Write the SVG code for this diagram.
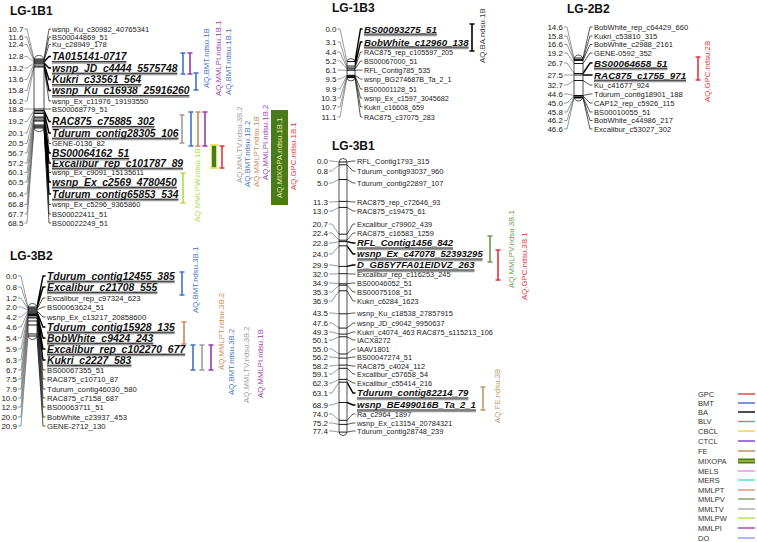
<svg xmlns="http://www.w3.org/2000/svg" width="757" height="542" viewBox="0 0 757 542">
<style>
text{font-family:"Liberation Sans",Arial,sans-serif}
.t{font-size:12px;font-weight:bold;fill:#111}
.n{font-size:8px;fill:#222;text-anchor:end}
.s{fill:#222}
.b{font-weight:bold;font-style:italic;fill:#111}
.q{font-size:7.8px}
.lg{font-size:7.5px;fill:#333}
.chr{fill:#fff;stroke:#222;stroke-width:0.8}
.ml{stroke:#000;stroke-width:0.9;fill:none}
.lc{stroke:#555;stroke-width:0.6;fill:none}
.rc{stroke:#111;stroke-width:0.7;fill:none}
.rb{stroke:#000;stroke-width:1.4;fill:none}
.u1{stroke:#111;stroke-width:1}
.u2{stroke:#999;stroke-width:1.5}
.qb{fill:none;stroke-width:1.6}
.cGPC{stroke:#e4353a}.fGPC{fill:#e4353a}
.cBMT{stroke:#3f73c8}.fBMT{fill:#3f73c8}
.cMMLPI{stroke:#9b3aad}.fMMLPI{fill:#9b3aad}
.cMMLTV{stroke:#9c9c9c}.fMMLTV{fill:#9c9c9c}
.cMMLPT{stroke:#c98a52}.fMMLPT{fill:#c98a52}
.cMMLPW{stroke:#a6e04a}.fMMLPW{fill:#a6e04a}
.cMMLPV{stroke:#6b9b4b}.fMMLPV{fill:#6b9b4b}
.cFE{stroke:#c09868}.fFE{fill:#c09868}
.cBA{stroke:#000}.fBA{fill:#333}
</style>

<g id="connectors">
<path class="lc" d="M24.5 29H27L34 59M24.5 37H27L34 60M24.5 44.5H27L34 61M24.5 56.5H27L34 62M24.5 68H27L34 63M24.5 79.5H27L34 64M24.5 90.5H27L34 66M24.5 101H27L34 67M24.5 109H27L34 109M24.5 121.5H27L34 110.5M24.5 133H27L34 112M24.5 143.5H27L34 113.5M24.5 153H27L34 117M24.5 163H27L34 118M24.5 172.5H27L34 120M24.5 182H27L34 121M24.5 194H27L34 125M24.5 204.5H27L34 126M24.5 214H27L34 127M24.5 223H27L34 128"/>
<path class="rc" d="M44 59L49 29H51M44 60L49 37H51M44 61L49 44.5H51M44 67L49 101H51M44 109L49 109H51M44 113.5L49 143.5H51M44 120L49 172.5H51M44 126L49 204.5H51M44 127L49 214H51M44 128L49 223H51"/>
<path class="rb" d="M44 62L49 56.5H51M44 63L49 68H51M44 64L49 79.5H51M44 66L49 90.5H51M44 110.5L49 121.5H51M44 112L49 133H51M44 117L49 153H51M44 118L49 163H51M44 121L49 182H51M44 125L49 194H51"/>

<path class="lc" d="M18 276H21L28 307M18 287H21L28 308M18 298H21L28 309M18 307H21L28 310M18 317H21L28 311M18 327H21L28 312M18 338H21L28 313M18 349H21L28 313.8M18 360H21L28 314.5M18 370H21L28 315.5M18 379H21L28 317M18 389H21L28 318M18 398H21L28 321M18 407H21L28 325M18 417H21L28 334M18 426H21L28 336"/>
<path class="rc" d="M37 309L43 298H45.5M37 310L43 307H45.5M37 311L43 317H45.5M37 315.5L43 370H45.5M37 317L43 379H45.5M37 318L43 389H45.5M37 321L43 398H45.5M37 325L43 407H45.5M37 334L43 417H45.5M37 336L43 426H45.5"/>
<path class="rb" d="M37 307L43 276H45.5M37 308L43 287H45.5M37 312L43 327H45.5M37 313L43 338H45.5M37 313.8L43 349H45.5M37 314.5L43 360H45.5"/>

<path class="lc" d="M337.5 29H340L347 61.5M337.5 42H340L347 66M337.5 52H340L347 67.9M337.5 61H340L347 69M337.5 70H340L347 70.3M337.5 79H340L347 75.3M337.5 89H340L347 75.9M337.5 98H340L347 76.4M337.5 107H340L347 77M337.5 117H340L347 77.6"/>
<path class="rc" d="M355 67.9L360.5 52H362.5M355 69L360.5 61H362.5M355 70.3L360.5 70H362.5M355 75.3L360.5 79H362.5M355 75.9L360.5 89H362.5M355 76.4L360.5 98H362.5M355 77L360.5 107H362.5M355 77.6L360.5 117H362.5"/>
<path class="rb" d="M355 61.5L360.5 29H362.5M355 66L360.5 42H362.5"/>

<path class="lc" d="M564 27H567L574 58M564 36H567L574 59.5M564 44.5H567L574 60.5M564 53H567L574 63.5M564 63H567L574 73.5M564 75H567L574 75M564 85H567L574 80.5M564 94H567L574 95.5M564 103H567L574 96M564 112H567L574 97M564 120.5H567L574 97.5M564 129H567L574 98"/>
<path class="rc" d="M583 58L590 27H592.5M583 59.5L590 36H592.5M583 60.5L590 44.5H592.5M583 63.5L590 53H592.5M583 80.5L590 85H592.5M583 95.5L590 94H592.5M583 96L590 103H592.5M583 97L590 112H592.5M583 97.5L590 120.5H592.5M583 98L590 129H592.5"/>
<path class="rb" d="M583 73.5L590 63H592.5M583 75L590 75H592.5"/>

<path class="lc" d="M329 161H332L339 162M329 171H332L339 164.8M329 183H332L339 179.5M329 202H332L339 201.4M329 211H332L339 207.4M329 224H332L339 234.2M329 233H332L339 240.2M329 243H332L339 241.6M329 254H332L339 245.8M329 265H332L339 266.4M329 274H332L339 273.7M329 283H332L339 283.8M329 292H332L339 285.2M329 301H332L339 290.8M329 313H332L339 313.8M329 323H332L339 328.1M329 332H332L339 334.1M329 340H332L339 336.8M329 349H332L339 354M329 357H332L339 358.1M329 366H332L339 365.1M329 374H332L339 368.3M329 383H332L339 379.4M329 393H332L339 382.2M329 405H332L339 402.5M329 414H332L339 420.3M329 423H332L339 424.4M329 431H332L339 432.1"/>
<path class="rc" d="M347 162L353 161H355.5M347 164.8L353 171H355.5M347 179.5L353 183H355.5M347 201.4L353 202H355.5M347 207.4L353 211H355.5M347 234.2L353 224H355.5M347 240.2L353 233H355.5M347 273.7L353 274H355.5M347 283.8L353 283H355.5M347 285.2L353 292H355.5M347 290.8L353 301H355.5M347 313.8L353 313H355.5M347 328.1L353 323H355.5M347 334.1L353 332H355.5M347 336.8L353 340H355.5M347 354L353 349H355.5M347 358.1L353 357H355.5M347 365.1L353 366H355.5M347 368.3L353 374H355.5M347 379.4L353 383H355.5M347 420.3L353 414H355.5M347 424.4L353 423H355.5M347 432.1L353 431H355.5"/>
<path class="rb" d="M347 241.6L353 243H355.5M347 245.8L353 254H355.5M347 266.4L353 265H355.5M347 382.2L353 393H355.5M347 402.5L353 405H355.5"/>
</g>

<!-- LG-1B1 -->
<g id="LG-1B1">
<text class="t" x="10" y="15">LG-1B1</text>
<rect class="chr" x="34" y="55.5" width="10" height="76" rx="4.5"/>
<path class="ml" d="M34 59H44M34 60H44M34 61H44M34 62H44M34 63H44M34 64H44M34 66H44M34 67H44M34 109H44M34 110.5H44M34 112H44M34 113.5H44M34 117H44M34 118H44M34 120H44M34 121H44M34 125H44M34 126H44M34 127H44M34 128H44"/>
<g class="n">
<text x="23.5" y="31.9">10.7</text><text x="23.5" y="39.9">11.6</text><text x="23.5" y="47.4">12.4</text><text x="23.5" y="59.4">12.8</text><text x="23.5" y="70.9">13.2</text><text x="23.5" y="82.4">13.6</text><text x="23.5" y="93.4">15.8</text><text x="23.5" y="103.9">16.2</text><text x="23.5" y="111.9">18.8</text><text x="23.5" y="124.4">19.2</text><text x="23.5" y="135.9">20.1</text><text x="23.5" y="146.4">20.5</text><text x="23.5" y="155.9">56.7</text><text x="23.5" y="165.9">57.2</text><text x="23.5" y="175.4">60.1</text><text x="23.5" y="184.9">60.5</text><text x="23.5" y="196.9">66.4</text><text x="23.5" y="207.4">66.8</text><text x="23.5" y="216.9">67.7</text><text x="23.5" y="225.9">68.5</text>
</g>
<g class="s" font-size="7.5">
<text x="52" y="31.7">wsnp_Ku_c30982_40765341</text><text x="52" y="39.7">BS00044869_51</text><text x="52" y="47.2">Ku_c28949_178</text><text x="52" y="103.7">wsnp_Ex_c11976_19193550</text><text x="52" y="111.7">BS00068779_51</text><text x="52" y="146.1">GENE-0136_82</text><text x="52" y="175.2">wsnp_Ex_c9091_15135611</text><text x="52" y="207.2">wsnp_Ex_c5296_9365860</text><text x="52" y="216.7">BS00022411_51</text><text x="52" y="225.7">BS00022249_51</text>
</g>
<g class="b" font-size="10.3">
<text x="52" y="60.1" textLength="74.4">TA015141-0717</text>
<text x="52" y="71.6" textLength="125.4">wsnp_JD_c4444_5575748</text>
<text x="52" y="83.1" textLength="89.3">Kukri_c33561_564</text>
<text x="52" y="94.1" textLength="137.4">wsnp_Ku_c16938_25916260</text>
<text x="52" y="125.1" textLength="102.5">RAC875_c75885_302</text>
<text x="52" y="136.6" textLength="126.5">Tdurum_contig28305_106</text>
<text x="52" y="156.9" textLength="77.3">BS00064162_51</text>
<text x="52" y="166.6" textLength="131.1">Excalibur_rep_c101787_89</text>
<text x="52" y="185.6" textLength="124.8">wsnp_Ex_c2569_4780450</text>
<text x="52" y="197.6" textLength="126.5">Tdurum_contig65853_534</text>
</g>
<path class="u2" d="M52 63.1h74.4M52 74.6h125.4M52 86.1h89.3M52 97.1h137.4M52 128.1h102.5M52 139.6h126.5M52 159.8h77.3M52 169.6h131.1M52 188.6h124.8M52 200.6h126.5"/>
<path class="u1" d="M52 61.7h74.4M52 73.2h125.4M52 84.7h89.3M52 95.7h137.4M52 126.7h102.5M52 138.2h126.5M52 158.4h77.3M52 168.2h131.1M52 187.2h124.8M52 199.2h126.5"/>
</g>

<g id="QTL-1B1">
<path class="qb cBMT" d="M180.5 53h5M183 53V74M180.5 74h5"/>
<path class="qb cMMLPI" d="M187.5 53h5M190 53V74M187.5 74h5"/>
<path class="qb cBMT" d="M193.5 73h5M196 73V90M193.5 90h5"/>
<path class="qb cMMLTV" d="M179.5 115h5M182 115V143M179.5 143h5"/>
<path class="qb cBMT" d="M188.5 112h5M191 112V146M188.5 146h5"/>
<path class="qb cMMLPT" d="M195.5 112h5M198 112V146M195.5 146h5"/>
<path class="qb cMMLPI" d="M202.5 112h5M205 112V146M202.5 146h5"/>
<rect x="211.5" y="145" width="5" height="23" fill="#4a7a1c" stroke="#dfe84a" stroke-width="1"/>
<path class="qb" stroke="#dfe84a" d="M210 145h8M210 168h8"/>
<path class="qb cGPC" d="M219.5 146h5M222 146V168M219.5 168h5"/>
<path class="qb cMMLPW" d="M180.5 173h5M183 173V203M180.5 203h5"/>
<text class="q fBMT" transform="translate(208.8,88) rotate(-90)">AQ.BMT.ndsu.1B</text>
<text class="q fMMLPI" transform="translate(220.8,96) rotate(-90)">AQ.MMLPI.ndsu.1B.1</text>
<text class="q fBMT" transform="translate(230.8,95) rotate(-90)">AQ.BMT.ndsu.1B.1</text>
<text class="q fMMLPW" transform="translate(199.8,222) rotate(-90)">AQ.MMLPW.ndsu.1B</text>
<text class="q fMMLTV" transform="translate(241.8,183) rotate(-90)">AQ.MMLTV.ndsu.3B.2</text>
<text class="q fBMT" transform="translate(249.8,187) rotate(-90)">AQ.BMT.ndsu.1B.2</text>
<text class="q fMMLPT" transform="translate(258.8,187) rotate(-90)">AQ.MMLPT.ndsu.1B</text>
<text class="q fMMLPI" transform="translate(267.8,180) rotate(-90)">AQ.MMLPI.ndsu.1B.2</text>
<rect x="271" y="110" width="17" height="95" fill="#4a7a1c"/>
<text class="q" fill="#e6eb9a" transform="translate(282.3,198) rotate(-90)">AQ.MIXOPA.ndsu.1B.1</text>
<text class="q fGPC" transform="translate(295.8,190) rotate(-90)">AQ.GPC.ndsu.1B.1</text>
</g>

<!-- LG-3B2 -->
<g id="LG-3B2">
<text class="t" x="10" y="260">LG-3B2</text>
<rect class="chr" x="28" y="303.5" width="9" height="36" rx="4.5"/>
<path class="ml" d="M28 307H37M28 308H37M28 309H37M28 310H37M28 311H37M28 312H37M28 313H37M28 313.8H37M28 314.5H37M28 315.5H37M28 317H37M28 318H37M28 321H37M28 325H37M28 334H37M28 336H37"/>
<g class="n">
<text x="17" y="278.9">0.0</text><text x="17" y="289.9">0.8</text><text x="17" y="300.9">1.2</text><text x="17" y="309.9">2.0</text><text x="17" y="319.9">4.2</text><text x="17" y="329.9">4.6</text><text x="17" y="340.9">5.4</text><text x="17" y="351.9">5.9</text><text x="17" y="362.9">6.3</text><text x="17" y="372.9">6.7</text><text x="17" y="381.9">7.5</text><text x="17" y="391.9">7.9</text><text x="17" y="400.9">10.0</text><text x="17" y="409.9">12.9</text><text x="17" y="419.9">20.0</text><text x="17" y="428.9">20.9</text>
</g>
<g class="s" font-size="7.7">
<text x="47" y="300.7">Excalibur_rep_c97324_623</text><text x="47" y="309.7">BS00063624_51</text><text x="47" y="319.7">wsnp_Ex_c13217_20858600</text><text x="47" y="372.7">BS00067355_51</text><text x="47" y="381.7">RAC875_c10710_87</text><text x="47" y="391.7">Tdurum_contig46030_580</text><text x="47" y="400.7">RAC875_c7158_687</text><text x="47" y="409.7">BS00063711_51</text><text x="47" y="419.7">BobWhite_c23937_453</text><text x="47" y="428.7">GENE-2712_130</text>
</g>
<g class="b" font-size="10.4">
<text x="47" y="279.6" textLength="127.7">Tdurum_contig12455_385</text>
<text x="47" y="290.6" textLength="110.4">Excalibur_c21708_555</text>
<text x="47" y="330.6" textLength="127.7">Tdurum_contig15928_135</text>
<text x="47" y="341.6" textLength="106.4">BobWhite_c9424_243</text>
<text x="47" y="352.6" textLength="138.2">Excalibur_rep_c102270_677</text>
<text x="47" y="363.6" textLength="84.4">Kukri_c2227_583</text>
</g>
<path class="u2" d="M47 282.6h127.7M47 293.6h110.4M47 333.6h127.7M47 344.6h106.4M47 355.6h138.2M47 366.6h84.4"/>
<path class="u1" d="M47 281.2h127.7M47 292.2h110.4M47 332.2h127.7M47 343.2h106.4M47 354.2h138.2M47 365.2h84.4"/>
</g>

<g id="QTL-3B2">
<path class="qb cBMT" d="M179.5 272h5M182 272V295M179.5 295h5"/>
<path class="qb cMMLPT" d="M181.5 322h5M184 322V344M181.5 344h5"/>
<path class="qb cBMT" d="M190.5 345h5M193 345V370M190.5 370h5"/>
<path class="qb cMMLTV" d="M199.5 345h5M202 345V370M199.5 370h5"/>
<path class="qb cMMLPI" d="M208.5 345h5M211 345V370M208.5 370h5"/>
<text class="q fBMT" transform="translate(197.8,313) rotate(-90)">AQ.BMT.ndsu.3B.1</text>
<text class="q fMMLPT" transform="translate(223.8,370) rotate(-90)">AQ.MMLPT.ndsu.3B.2</text>
<text class="q fBMT" transform="translate(233.8,395) rotate(-90)">AQ.BMT.ndsu.3B.2</text>
<text class="q fMMLTV" transform="translate(248.8,403) rotate(-90)">AQ.MMLTV.ndsu.3B.2</text>
<text class="q fMMLPI" transform="translate(262.8,398) rotate(-90)">AQ.MMLPI.ndsu.1B</text>
</g>

<!-- LG-1B3 -->
<g id="LG-1B3">
<text class="t" x="332" y="12">LG-1B3</text>
<rect class="chr" x="347" y="58.5" width="8" height="22.5" rx="4"/>
<path class="ml" d="M347 61.5H355M347 66H355M347 67.9H355M347 69H355M347 70.3H355M347 75.3H355M347 75.9H355M347 76.4H355M347 77H355M347 77.6H355"/>
<g class="n">
<text x="336.5" y="31.9">0.0</text><text x="336.5" y="44.9">3.1</text><text x="336.5" y="54.9">4.4</text><text x="336.5" y="63.9">5.2</text><text x="336.5" y="72.9">6.1</text><text x="336.5" y="81.9">9.5</text><text x="336.5" y="91.9">9.9</text><text x="336.5" y="100.9">10.3</text><text x="336.5" y="109.9">10.7</text><text x="336.5" y="119.9">11.1</text>
</g>
<g class="s" font-size="7.2">
<text x="364" y="54.7">RAC875_rep_c105597_205</text><text x="364" y="63.7">BS00067000_51</text><text x="364" y="72.7">RFL_Contig785_535</text><text x="364" y="81.7">wsnp_BG274687B_Ta_2_1</text><text x="364" y="91.7">BS00001128_51</text><text x="364" y="100.7">wsnp_Ex_c1597_3045682</text><text x="364" y="109.7">Kukri_c16608_659</text><text x="364" y="119.7">RAC875_c37075_283</text>
</g>
<g class="b" font-size="9.7">
<text x="364" y="32.5" textLength="72.8">BS00093275_51</text>
<text x="364" y="45.5" textLength="104.6">BobWhite_c12960_138</text>
</g>
<path class="u2" d="M364 35.5h72.8M364 48.5h104.6"/>
<path class="u1" d="M364 34.1h72.8M364 47.1h104.6"/>
</g>

<g id="QTL-1B3">
<path class="qb cBA" d="M469.5 24h5M472 24V51M469.5 51h5"/>
<text class="q fBA" transform="translate(484.8,63) rotate(-90)">AQ.BA.ndsu.1B</text>
</g>

<!-- LG-2B2 -->
<g id="LG-2B2">
<text class="t" x="567" y="13">LG-2B2</text>
<rect class="chr" x="574" y="55" width="9" height="46" rx="4.5"/>
<path class="ml" d="M574 58H583M574 59.5H583M574 60.5H583M574 63.5H583M574 73.5H583M574 75H583M574 80.5H583M574 95.5H583M574 96H583M574 97H583M574 97.5H583M574 98H583"/>
<g class="n">
<text x="563" y="29.9">14.6</text><text x="563" y="38.9">15.8</text><text x="563" y="47.4">16.6</text><text x="563" y="55.9">19.2</text><text x="563" y="65.9">26.7</text><text x="563" y="77.9">27.5</text><text x="563" y="87.9">32.7</text><text x="563" y="96.9">44.6</text><text x="563" y="105.9">45.0</text><text x="563" y="114.9">45.8</text><text x="563" y="123.4">46.2</text><text x="563" y="131.9">46.6</text>
</g>
<g class="s" font-size="7.6">
<text x="594" y="29.7">BobWhite_rep_c64429_660</text><text x="594" y="38.7">Kukri_c53810_315</text><text x="594" y="47.2">BobWhite_c2988_2161</text><text x="594" y="55.7">GENE-0592_352</text><text x="594" y="87.7">Ku_c41677_924</text><text x="594" y="96.7">Tdurum_contig18901_188</text><text x="594" y="105.7">CAP12_rep_c5926_115</text><text x="594" y="114.7">BS00010055_51</text><text x="594" y="123.2">BobWhite_c44986_217</text><text x="594" y="131.7">Excalibur_c53027_302</text>
</g>
<g class="b" font-size="9.8">
<text x="594" y="66.6" textLength="73.5">BS00064658_51</text>
<text x="594" y="78.6" textLength="92.1">RAC875_c1755_971</text>
</g>
<path class="u2" d="M594 69.6h73.5M594 81.6h92.1"/>
<path class="u1" d="M594 68.2h73.5M594 80.2h92.1"/>
</g>

<g id="QTL-2B2">
<path class="qb cGPC" d="M695.5 57h5M698 57V80M695.5 80h5"/>
<text class="q fGPC" transform="translate(709.8,102) rotate(-90)">AQ.GPC.ndsu.2B</text>
</g>

<!-- LG-3B1 -->
<g id="LG-3B1">
<text class="t" x="332" y="150">LG-3B1</text>
<rect class="chr" x="339" y="158.5" width="8" height="277" rx="4"/>
<path class="ml" d="M339 162H347M339 164.8H347M339 179.5H347M339 201.4H347M339 207.4H347M339 234.2H347M339 240.2H347M339 241.6H347M339 245.8H347M339 266.4H347M339 273.7H347M339 283.8H347M339 285.2H347M339 290.8H347M339 313.8H347M339 328.1H347M339 334.1H347M339 336.8H347M339 354H347M339 358.1H347M339 365.1H347M339 368.3H347M339 379.4H347M339 382.2H347M339 402.5H347M339 420.3H347M339 424.4H347M339 432.1H347"/>
<g class="n">
<text x="328" y="163.9">0.0</text><text x="328" y="173.9">0.8</text><text x="328" y="185.9">5.0</text><text x="328" y="204.9">11.3</text><text x="328" y="213.9">13.0</text><text x="328" y="226.9">20.7</text><text x="328" y="235.9">22.4</text><text x="328" y="245.9">22.8</text><text x="328" y="256.9">24.0</text><text x="328" y="267.9">29.9</text><text x="328" y="276.9">32.0</text><text x="328" y="285.9">34.9</text><text x="328" y="294.9">35.3</text><text x="328" y="303.9">36.9</text><text x="328" y="315.9">43.5</text><text x="328" y="325.9">47.6</text><text x="328" y="334.9">49.3</text><text x="328" y="342.9">50.1</text><text x="328" y="351.9">55.0</text><text x="328" y="359.9">56.2</text><text x="328" y="368.9">58.2</text><text x="328" y="376.9">59.1</text><text x="328" y="385.9">62.3</text><text x="328" y="395.9">63.1</text><text x="328" y="407.9">68.9</text><text x="328" y="416.9">74.0</text><text x="328" y="425.9">75.2</text><text x="328" y="433.9">77.4</text>
</g>
<g class="s" font-size="7.4">
<text x="357" y="163.7">RFL_Contig1793_315</text><text x="357" y="173.7">Tdurum_contig93037_960</text><text x="357" y="185.7">Tdurum_contig22897_107</text><text x="357" y="204.7">RAC875_rep_c72646_93</text><text x="357" y="213.7">RAC875_c19475_61</text><text x="357" y="226.7">Excalibur_c79902_439</text><text x="357" y="235.7">RAC875_c16583_1259</text><text x="357" y="276.7">Excalibur_rep_c116253_245</text><text x="357" y="285.7">BS00046052_51</text><text x="357" y="294.7">BS00075108_51</text><text x="357" y="303.7">Kukri_c6284_1623</text><text x="357" y="315.7">wsnp_Ku_c18538_27857915</text><text x="357" y="325.7">wsnp_JD_c9042_9950637</text><text x="357" y="334.7">Kukri_c4074_463 RAC875_s115213_106</text><text x="357" y="342.7">IACX8272</text><text x="357" y="351.7">IAAV1801</text><text x="357" y="359.7">BS00047274_51</text><text x="357" y="368.7">RAC875_c4024_112</text><text x="357" y="376.7">Excalibur_c57658_54</text><text x="357" y="385.7">Excalibur_c55414_216</text><text x="357" y="416.7">Ra_c2964_1897</text><text x="357" y="425.7">wsnp_Ex_c13154_20784321</text><text x="357" y="433.7">Tdurum_contig28748_239</text>
</g>
<g class="b" font-size="9.5">
<text x="357" y="246.4" textLength="96.1">RFL_Contig1456_842</text>
<text x="357" y="257.4" textLength="125.7">wsnp_Ex_c47078_52393295</text>
<text x="357" y="268.4" textLength="117.5">D_GB5Y7FA01EIDVZ_263</text>
<text x="357" y="396.4" textLength="111.4">Tdurum_contig82214_79</text>
<text x="357" y="408.4" textLength="118.9">wsnp_BE499016B_Ta_2_1</text>
</g>
<path class="u2" d="M357 249.4h96.1M357 260.4h125.7M357 271.4h117.5M357 399.4h111.4M357 411.4h118.9"/>
<path class="u1" d="M357 248h96.1M357 259h125.7M357 270h117.5M357 398h111.4M357 410h118.9"/>
</g>

<g id="QTL-3B1">
<path class="qb cMMLPV" d="M487.5 236h5M490 236V262M487.5 262h5"/>
<path class="qb cGPC" d="M495.5 250h5M498 250V280M495.5 280h5"/>
<path class="qb cFE" d="M480.5 387h5M483 387V410M480.5 410h5"/>
<text class="q fMMLPV" transform="translate(513.8,288) rotate(-90)">AQ.MMLPV.ndsu.3B.1</text>
<text class="q fGPC" transform="translate(526.8,300) rotate(-90)">AQ.GPC.ndsu.3B.1</text>
<text class="q fFE" transform="translate(499.8,423) rotate(-90)">AQ.FE.ndsu.3B</text>
</g>

<!-- Legend -->
<g id="legend">
<g class="lg">
<text x="698" y="396.6">GPC</text><text x="698" y="405.6">BMT</text><text x="698" y="414.6">BA</text><text x="698" y="424.1">BLV</text><text x="698" y="433.6">CBCL</text><text x="698" y="443.6">CTCL</text><text x="698" y="453.6">FE</text><text x="698" y="463.6">MIXOPA</text><text x="698" y="473.6">MELS</text><text x="698" y="482.6">MERS</text><text x="698" y="492.6">MMLPT</text><text x="698" y="501.6">MMLPV</text><text x="698" y="511.6">MMLTV</text><text x="698" y="520.6">MMLPW</text><text x="698" y="530.6">MMLPI</text><text x="698" y="540.6">DO</text>
</g>
<g stroke-width="1.4">
<path stroke="#e8363b" d="M738 394H755"/>
<path stroke="#3b6cc7" d="M738 403H755"/>
<path stroke="#000" d="M738 412H755"/>
<path stroke="#3dba7a" d="M738 421.5H755"/>
<path stroke="#f3cf3e" d="M738 431H755"/>
<path stroke="#7a3cc0" d="M738 441H755"/>
<path stroke="#b98b52" d="M738 451H755"/>
<rect x="738" y="458.5" width="17" height="5" fill="#4a7a1c" stroke="none"/>
<path stroke="#d8e650" stroke-width="1" d="M738 461H755"/>
<path stroke="#f08be6" d="M738 471H755"/>
<path stroke="#3fe3c3" d="M738 480H755"/>
<path stroke="#d4926a" d="M738 490H755"/>
<path stroke="#789e60" d="M738 499H755"/>
<path stroke="#a8a8a8" d="M738 509H755"/>
<path stroke="#a9e34b" d="M738 518H755"/>
<path stroke="#a63aa9" d="M738 528H755"/>
<path stroke="#8c9cf2" d="M738 538H755"/>
</g>
</g>
</svg>
